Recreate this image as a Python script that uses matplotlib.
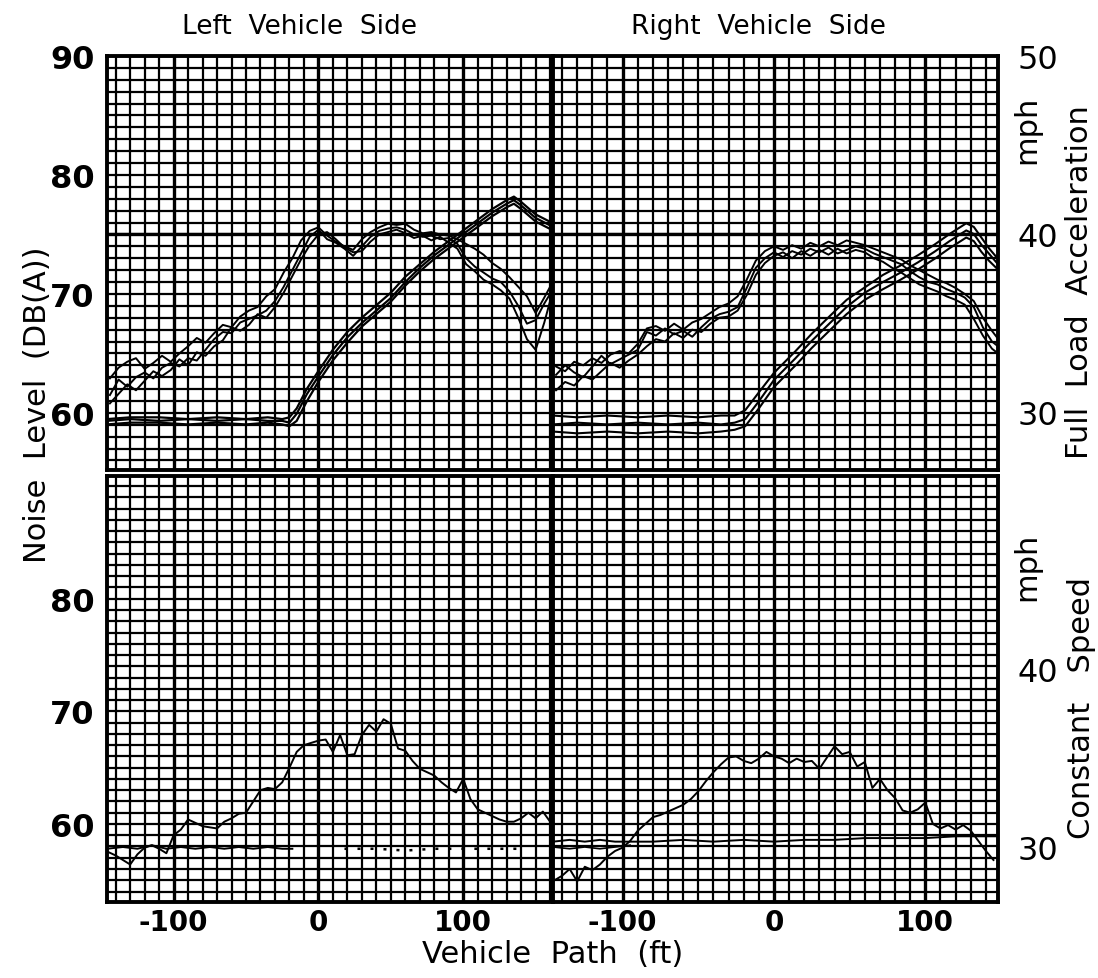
import matplotlib
matplotlib.use("Agg")
import matplotlib.pyplot as plt
from matplotlib.ticker import MultipleLocator

plt.rcParams["font.family"] = "DejaVu Sans"
plt.rcParams["axes.unicode_minus"] = False

# ---------------------------------------------------------------
# data
# noise in dB(A) on the left axis, vehicle speed in mph on the right
# ---------------------------------------------------------------

# full load acceleration, left side - noise (3 runs)
tl_x = [-144, -138, -132, -126, -120, -114, -108, -102, -96, -90, -84, -78, -72,
        -66, -60, -54, -48, -42, -36, -30, -24, -18, -12, -6, 0, 6, 12, 18, 24,
        30, 36, 42, 48, 54, 60, 66, 72, 78, 84, 90, 96, 102, 108, 114, 120, 126,
        132, 138, 144, 150, 156, 160]
tl_noise_1 = [61.5, 62.8, 62.2, 63.0, 63.4, 62.9, 63.8, 64.2, 63.9, 64.6, 64.4, 65.3,
              66.2, 66.8, 66.7, 67.6, 67.9, 68.2, 68.6, 69.4, 70.6, 72.0, 73.4, 74.8,
              75.4, 74.6, 74.3, 73.8, 73.2, 74.0, 74.8, 75.3, 75.5, 75.6, 75.4, 75.0,
              74.8, 74.9, 74.6, 74.7, 74.2, 73.0, 72.3, 71.8, 71.3, 71.0, 70.2, 69.0,
              67.5, 67.8, 69.2, 70.0]
tl_noise_2 = [60.8, 61.6, 62.4, 61.9, 62.7, 63.5, 63.1, 63.6, 64.5, 64.0, 65.1, 64.8,
              65.6, 66.1, 67.2, 66.9, 67.4, 68.3, 68.0, 68.9, 70.1, 71.5, 72.9, 74.1,
              75.0, 75.2, 74.6, 73.9, 73.5, 73.6, 74.4, 75.0, 75.2, 75.4, 75.1, 74.7,
              74.9, 74.5, 74.8, 74.3, 73.8, 72.5, 71.9, 71.2, 70.8, 70.3, 69.6, 68.0,
              66.2, 65.3, 67.6, 69.4]
tl_noise_3 = [62.9, 63.8, 64.3, 64.6, 63.7, 64.2, 64.8, 64.3, 65.0, 65.6, 66.3, 65.9,
              66.7, 67.4, 67.2, 68.1, 68.6, 68.9, 69.8, 70.4, 71.8, 73.0, 74.5, 75.3,
              75.6, 74.9, 74.4, 74.0, 73.7, 74.6, 75.2, 75.6, 75.9, 75.8, 75.9, 75.4,
              75.1, 75.2, 75.0, 74.9, 74.6, 74.2, 73.8, 73.3, 72.6, 72.1, 71.4, 70.6,
              69.8, 68.4, 69.7, 70.6]

# full load acceleration, left side - speed (3 runs)
tl_speed_x = [-146, -130, -110, -90, -70, -50, -35, -25, -20, -15, -8, 0, 10, 20, 30,
              40, 50, 60, 70, 80, 90, 100, 110, 120, 130, 135, 140, 150, 162]
tl_speed_1 = [29.5, 29.6, 29.5, 29.6, 29.5, 29.6, 29.5, 29.5, 29.4, 29.9, 31.0, 32.0,
              33.2, 34.2, 35.0, 35.7, 36.4, 37.3, 38.1, 38.8, 39.4, 40.0, 40.6, 41.2,
              41.7, 41.9, 41.6, 40.9, 40.4]
tl_speed_2 = [29.3, 29.4, 29.4, 29.3, 29.4, 29.3, 29.4, 29.3, 29.2, 29.5, 30.6, 31.7,
              32.9, 33.9, 34.8, 35.5, 36.2, 37.1, 37.9, 38.6, 39.2, 39.8, 40.4, 41.0,
              41.5, 41.7, 41.4, 40.7, 40.2]
tl_speed_3 = [29.6, 29.7, 29.7, 29.6, 29.7, 29.6, 29.7, 29.6, 29.7, 30.2, 31.3, 32.3,
              33.5, 34.5, 35.3, 36.0, 36.7, 37.6, 38.3, 39.0, 39.6, 40.2, 40.8, 41.4,
              41.9, 42.1, 41.8, 41.1, 40.6]

# full load acceleration, right side - noise (3 runs)
tr_x = [-144, -138, -132, -126, -120, -114, -108, -102, -96, -90, -84, -78, -72,
        -66, -60, -54, -48, -42, -36, -30, -24, -18, -12, -6, 0, 6, 12, 18, 24,
        30, 36, 42, 48, 54, 60, 66, 72, 78, 84, 90, 96, 102, 108, 114, 120, 126,
        132, 138, 144, 147]
tr_noise_1 = [63.2, 64.0, 63.4, 63.0, 63.9, 64.8, 64.1, 64.5, 64.9, 65.3, 66.8, 66.5,
              67.1, 66.6, 66.9, 66.4, 67.2, 67.9, 68.3, 68.5, 68.9, 70.5, 72.2, 73.0,
              73.5, 73.1, 73.6, 73.3, 73.8, 73.5, 73.9, 73.4, 73.7, 74.0, 73.8, 73.4,
              73.1, 72.8, 72.5, 71.9, 71.4, 71.0, 70.8, 70.4, 70.1, 69.7, 68.9, 67.2,
              66.0, 65.7]
tr_noise_2 = [61.9, 62.6, 62.3, 63.1, 62.8, 63.5, 64.2, 63.8, 64.4, 64.9, 65.6, 66.2,
              66.0, 66.7, 66.3, 67.0, 66.8, 67.5, 68.0, 68.1, 68.6, 69.9, 71.6, 72.6,
              73.2, 73.5, 73.0, 73.6, 73.2, 73.7, 73.3, 73.8, 73.4, 73.7, 73.5, 73.0,
              72.7, 72.2, 71.8, 71.3, 70.8, 70.5, 70.2, 69.8, 69.5, 69.1, 67.9, 66.5,
              65.4, 65.1]
tr_noise_3 = [63.9, 63.5, 64.3, 64.0, 64.6, 64.2, 64.9, 65.2, 65.0, 65.8, 67.1, 67.3,
              66.9, 67.5, 67.0, 67.6, 67.9, 68.4, 68.9, 69.2, 69.8, 71.2, 72.8, 73.6,
              74.0, 73.7, 74.1, 73.8, 74.3, 74.0, 74.4, 74.1, 74.5, 74.3, 74.1, 73.8,
              73.5, 73.2, 72.9, 72.4, 72.0, 71.6, 71.2, 70.9, 70.5, 70.0, 69.4, 68.0,
              66.9, 66.4]

# full load acceleration, right side - speed (3 runs)
tr_speed_x = [-146, -130, -110, -90, -70, -50, -35, -26, -19, -10, 0, 14, 25, 37, 48,
              60, 72, 83, 95, 106, 116, 127, 132, 137, 142, 148]
tr_speed_1 = [29.3, 29.4, 29.3, 29.4, 29.3, 29.4, 29.3, 29.4, 29.6, 30.6, 31.8, 33.0,
              34.0, 35.0, 35.9, 36.7, 37.3, 37.8, 38.4, 39.0, 39.6, 40.2, 40.0, 39.4,
              38.9, 38.3]
tr_speed_2 = [29.8, 29.7, 29.8, 29.7, 29.8, 29.7, 29.8, 29.8, 30.1, 31.1, 32.2, 33.4,
              34.4, 35.4, 36.3, 37.0, 37.7, 38.2, 38.8, 39.4, 40.0, 40.6, 40.4, 39.8,
              39.2, 38.6]
tr_speed_3 = [28.9, 28.8, 28.9, 28.8, 28.9, 28.8, 28.9, 29.0, 29.2, 30.2, 31.4, 32.6,
              33.6, 34.6, 35.5, 36.3, 36.9, 37.4, 38.0, 38.6, 39.2, 39.8, 39.6, 39.0,
              38.5, 38.0]

# constant speed, left side
bl_x = [-145, -140, -135, -130, -125, -120, -115, -110, -105, -100, -95, -90, -85,
        -80, -75, -70, -65, -60, -55, -50, -45, -40, -35, -30, -25, -20, -15, -10,
        -5, 0, 5, 10, 15, 20, 25, 30, 35, 40, 45, 50, 55, 60, 65, 70, 75, 80, 85,
        90, 95, 100, 105, 110, 115, 120, 125, 130, 135, 140, 145, 150, 155, 160]
bl_noise = [57.5, 57.2, 56.8, 56.4, 57.3, 57.9, 58.1, 57.8, 57.4, 59.0, 59.5, 60.4,
            60.1, 59.8, 59.7, 59.6, 60.2, 60.5, 60.9, 61.0, 62.0, 63.0, 63.2, 63.1,
            63.7, 65.0, 66.4, 67.0, 67.2, 67.4, 67.5, 66.4, 67.9, 66.1, 66.2, 67.9,
            68.8, 68.2, 69.3, 68.9, 66.7, 66.5, 65.6, 64.9, 64.6, 64.3, 63.7, 63.2,
            62.8, 64.0, 62.2, 61.3, 61.0, 60.7, 60.4, 60.2, 60.2, 60.5, 61.0, 60.5,
            61.1, 60.2]
bl_speed_x = [-146, -135, -125, -115, -105, -95, -85, -75, -65, -55, -45, -35, -25, -18]
bl_speed = [29.9, 30.0, 29.9, 30.1, 29.9, 30.0, 29.9, 30.0, 29.9, 30.0, 29.9, 30.0,
            29.9, 29.9]
bl_speed_dot_x = [18, 40, 60, 80, 100, 120, 140]
bl_speed_dot = [29.9, 29.9, 29.8, 29.9, 29.9, 29.9, 29.9]

# constant speed, right side
br_x = [-145, -140, -135, -130, -125, -120, -115, -110, -105, -100, -95, -90, -85,
        -80, -75, -70, -65, -60, -55, -50, -45, -40, -35, -30, -25, -20, -15, -10,
        -5, 0, 5, 10, 15, 20, 25, 30, 35, 40, 45, 50, 55, 60, 65, 70, 75, 80, 85,
        90, 95, 100, 105, 110, 115, 120, 125, 130, 135, 140, 145]
br_noise = [55.0, 55.4, 56.0, 54.9, 56.2, 55.9, 56.4, 57.1, 57.6, 57.9, 58.5, 59.4,
            60.0, 60.6, 60.8, 61.1, 61.4, 61.7, 62.2, 62.9, 63.8, 64.6, 65.3, 65.9,
            66.0, 65.6, 65.4, 65.8, 66.4, 66.0, 65.8, 65.4, 65.8, 65.5, 65.6, 64.9,
            65.9, 66.9, 66.2, 66.4, 65.1, 65.5, 63.2, 64.0, 63.0, 62.3, 61.2, 61.0,
            61.3, 61.9, 60.0, 59.6, 59.9, 59.5, 59.9, 59.4, 58.5, 57.6, 56.8]
br_speed_x = [-146, -135, -125, -115, -105, -95, -80, -60, -40, -20, 0, 20, 40, 60,
              80, 100, 120, 140, 148]
br_speed_1 = [30.3, 30.4, 30.3, 30.4, 30.3, 30.3, 30.3, 30.4, 30.3, 30.4, 30.3, 30.4,
              30.4, 30.5, 30.5, 30.5, 30.6, 30.6, 30.6]
br_speed_2_x = [-146, -135, -125, -115, -105, -95]
br_speed_2 = [30.0, 29.9, 30.0, 29.9, 30.0, 30.1]

# axis ranges and tick labels
left_xlim = (-146, 162)
right_xlim = (-146, 148)
x_ticks = [-100, 0, 100]
top_db = (55.2, 90)
bot_db = (53.07, 90.9)
top_mph = (26.74, 50)
bot_mph = (26.91, 50.84)
top_db_ticks = [60, 70, 80, 90]
bot_db_ticks = [60, 70, 80]
top_mph_ticks = [30, 40, 50]
bot_mph_ticks = [30, 40]


# ---------------------------------------------------------------
# figure
# ---------------------------------------------------------------
W, H = 1098, 979
fig = plt.figure(figsize=(W / 100, H / 100), dpi=100)
fig.patch.set_facecolor("white")


def px_axes(x0, y0, x1, y1):
    # axes placed by pixel box (top-left origin like the scan)
    return fig.add_axes([x0 / W, 1 - y1 / H, (x1 - x0) / W, (y1 - y0) / H])


def graph_paper(ax, xlim, ylim, yticks, thick_db=None):
    ax.set_xlim(*xlim)
    ax.set_ylim(*ylim)
    ax.set_xticks(x_ticks)
    ax.set_yticks(yticks)
    ax.xaxis.set_minor_locator(MultipleLocator(10))
    ax.yaxis.set_minor_locator(MultipleLocator(1))
    ax.grid(which="minor", color="black", linewidth=1.6)
    ax.grid(which="major", axis="y", color="black", linewidth=1.6)
    ax.grid(which="major", axis="x", color="black", linewidth=2.4)
    if thick_db is not None:
        ax.axhline(thick_db, color="black", linewidth=2.4, zorder=1.6)
    ax.tick_params(which="both", length=0)
    for s in ax.spines.values():
        s.set_linewidth(2.8)


def speed_axis(ax, ylim, yticks=None):
    ax2 = ax.twinx()
    ax2.set_ylim(*ylim)
    for s in ax2.spines.values():
        s.set_visible(False)
    ax2.tick_params(which="both", length=0)
    if yticks is None:
        ax2.set_yticks([])
    else:
        ax2.set_yticks(yticks)
        ax2.set_yticklabels([str(t) for t in yticks], fontsize=23)
        ax2.tick_params(axis="y", pad=14)
    return ax2


ax_tl = px_axes(107, 57, 553, 471)
ax_tr = px_axes(553, 57, 998, 471)
ax_bl = px_axes(107, 477, 553, 903)
ax_br = px_axes(553, 477, 998, 903)

graph_paper(ax_tl, left_xlim, top_db, top_db_ticks, thick_db=75)
graph_paper(ax_tr, right_xlim, top_db, top_db_ticks, thick_db=75)
graph_paper(ax_bl, left_xlim, bot_db, bot_db_ticks)
graph_paper(ax_br, right_xlim, bot_db, bot_db_ticks)

# tick labels: dB on the left column, ft on the bottom row
for ax in (ax_tl, ax_bl):
    ax.set_yticklabels([str(t) for t in ax.get_yticks().astype(int)],
                       fontsize=23, fontweight="bold")
    ax.tick_params(axis="y", pad=9)
for ax in (ax_tr, ax_br):
    ax.set_yticklabels([])
for ax in (ax_tl, ax_tr):
    ax.set_xticklabels([])
for ax in (ax_bl, ax_br):
    ax.set_xticklabels([str(t) for t in x_ticks], fontsize=20, fontweight="bold")
    ax.tick_params(axis="x", pad=4)

sp_tl = speed_axis(ax_tl, top_mph)
sp_tr = speed_axis(ax_tr, top_mph, top_mph_ticks)
sp_bl = speed_axis(ax_bl, bot_mph)
sp_br = speed_axis(ax_br, bot_mph, bot_mph_ticks)

line_kw = dict(color="black", linewidth=1.4)

# noise traces
for y in (tl_noise_1, tl_noise_2, tl_noise_3):
    ax_tl.plot(tl_x, y, **line_kw)
for y in (tr_noise_1, tr_noise_2, tr_noise_3):
    ax_tr.plot(tr_x, y, **line_kw)
ax_bl.plot(bl_x, bl_noise, **line_kw)
ax_br.plot(br_x, br_noise, **line_kw)

# speed traces
for y in (tl_speed_1, tl_speed_2, tl_speed_3):
    sp_tl.plot(tl_speed_x, y, color="black", linewidth=1.6)
for y in (tr_speed_1, tr_speed_2, tr_speed_3):
    sp_tr.plot(tr_speed_x, y, color="black", linewidth=1.5)
sp_bl.plot(bl_speed_x, bl_speed, color="black", linewidth=1.4)
sp_bl.plot(bl_speed_dot_x, bl_speed_dot, color="black", linewidth=1.8,
           linestyle=(0, (1.2, 4)))
sp_br.plot(br_speed_x, br_speed_1, color="black", linewidth=1.4)
sp_br.plot(br_speed_2_x, br_speed_2, color="black", linewidth=1.2)

# titles and axis labels
fig.text(300 / W, 1 - 27 / H, "Left  Vehicle  Side", ha="center", va="center",
         fontsize=19)
fig.text(758 / W, 1 - 27 / H, "Right  Vehicle  Side", ha="center", va="center",
         fontsize=19)
fig.text(38 / W, 1 - 405 / H, "Noise  Level  (DB(A))", ha="center", va="center",
         rotation=90, fontsize=22)
fig.text(553 / W, 1 - 955 / H, "Vehicle  Path  (ft)", ha="center", va="center",
         fontsize=22)
fig.text(1027 / W, 1 - 130 / H, "mph", ha="center", va="center", rotation=90,
         fontsize=22)
fig.text(1080 / W, 1 - 282 / H, "Full  Load  Acceleration", ha="center", va="center",
         rotation=90, fontsize=22)
fig.text(1027 / W, 1 - 567 / H, "mph", ha="center", va="center", rotation=90,
         fontsize=22)
fig.text(1081 / W, 1 - 708 / H, "Constant   Speed", ha="center", va="center",
         rotation=90, fontsize=22)

fig.savefig("out.png", dpi=100, facecolor="white")
